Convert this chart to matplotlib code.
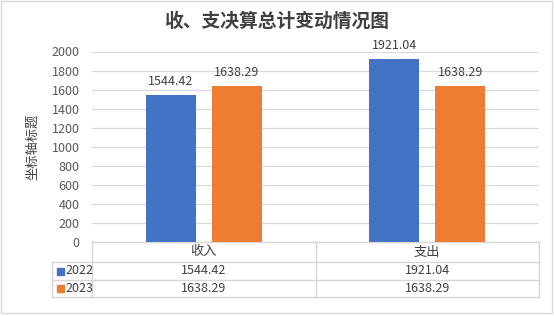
import numpy as np
import matplotlib
matplotlib.use('Agg')
import matplotlib.pyplot as plt
from matplotlib.patches import Rectangle

plt.rcParams['font.family'] = ['Noto Sans CJK SC', 'DejaVu Sans']

# data
categories = ['收入', '支出']
series_names = ['2022', '2023']
values_2022 = [1544.42, 1921.04]
values_2023 = [1638.29, 1638.29]
colors = ['#4472C4', '#ED7D31']
title = '收、支决算总计变动情况图'
ylabel = '坐标轴标题'
yticks = list(range(0, 2001, 200))

W, H = 554, 316
fig = plt.figure(figsize=(W / 100, H / 100), dpi=100)

# plot area in pixels
left, right, top, bottom = 92, 539, 51.5, 242
ax = fig.add_axes([left / W, 1 - bottom / H, (right - left) / W, (bottom - top) / H])

x = np.arange(len(categories))
bw = 0.224
off = 0.148
grid_c = '#d9d9d9'
text_c = '#404040'

for k, vals in enumerate([values_2022, values_2023]):
    pos = x + (-off if k == 0 else off)
    ax.bar(pos, vals, width=bw, color=colors[k], zorder=3)
    for p, v in zip(pos, vals):
        ax.annotate(f'{v:.2f}', (p, v), xytext=(0, 10), textcoords='offset points',
                    ha='center', va='center', fontsize=9, color=text_c,
                    annotation_clip=False)

ax.set_xlim(-0.5, len(categories) - 0.5)
ax.set_ylim(0, 2000)
ax.set_yticks(yticks)
ax.set_yticklabels([str(t) for t in yticks], fontsize=9, color='#595959')
ax.tick_params(axis='y', length=0, pad=9)
ax.set_xticks([])
ax.yaxis.grid(True, color=grid_c, linewidth=0.9, zorder=0)
for s in ['top', 'right', 'left']:
    ax.spines[s].set_visible(False)
ax.spines['bottom'].set_color(grid_c)
ax.set_facecolor('none')

# overlay in pixel coordinates for title, axis label, table and border
ov = fig.add_axes([0, 0, 1, 1], zorder=-1)
ov.set_xlim(0, W)
ov.set_ylim(H, 0)
ov.axis('off')

ov.add_patch(Rectangle((1, 1), W - 3, H - 4, fill=False, edgecolor=grid_c, linewidth=1))
ov.text(W / 2, 21, title, ha='center', va='center', fontsize=13.5,
        fontweight='bold', color='#404040')
ov.text(33, 147, ylabel, ha='center', va='center', rotation=90,
        fontsize=9.5, color=text_c)

# data table
tc = '#d6d6d6'
rows_y = [242, 262, 280, 297]
mid = (left + right) / 2
leg_x = 52
ov.plot([left, right], [rows_y[0], rows_y[0]], color=tc, lw=1)
for yy in rows_y[1:]:
    ov.plot([leg_x, right], [yy, yy], color=tc, lw=1)
ov.plot([left, left], [rows_y[0], rows_y[-1]], color=tc, lw=1)
ov.plot([mid, mid], [rows_y[0], rows_y[-1]], color=tc, lw=1)
ov.plot([right, right], [rows_y[0], rows_y[-1]], color=tc, lw=1)
ov.plot([leg_x, leg_x], [rows_y[1], rows_y[-1]], color=tc, lw=1)

col_c = [(left + mid) / 2, (mid + right) / 2]
for c, cat in zip(col_c, categories):
    ov.text(c, (rows_y[0] + rows_y[1]) / 2, cat, ha='center', va='center',
            fontsize=9.5, color=text_c)
for r, (name, vals) in enumerate(zip(series_names, [values_2022, values_2023])):
    yc = (rows_y[r + 1] + rows_y[r + 2]) / 2
    ov.add_patch(Rectangle((57, yc - 3.5), 7, 7, color=colors[r]))
    ov.text(65, yc, name, ha='left', va='center', fontsize=9, color=text_c)
    for c, v in zip(col_c, vals):
        ov.text(c, yc, f'{v:.2f}', ha='center', va='center', fontsize=9, color=text_c)

fig.savefig('out.png', dpi=100)
